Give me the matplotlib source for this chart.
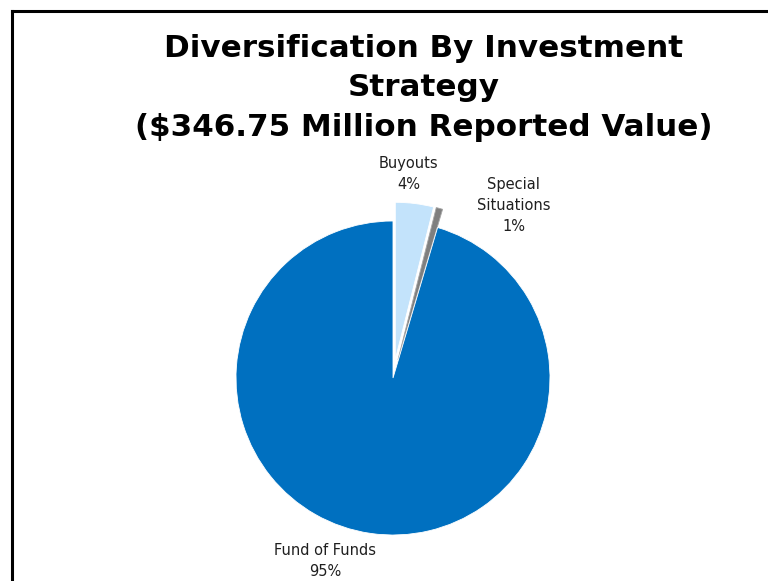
import matplotlib

matplotlib.use("Agg")
import matplotlib.pyplot as plt
from matplotlib.lines import Line2D

# reported value by strategy, $ millions
STRATEGIES = ["Buyouts", "Special\nSituations", "Fund of Funds"]
VALUES = [13.6, 2.3, 330.85]
TOTAL_LABEL = "$346.75 Million Reported Value"

COLORS = ["#C3E3FB", "#7F7F7F", "#0070C0"]
EXPLODE = [0.12, 0.12, 0.0]

# label anchor points in pie-radius units
LABEL_XY = [(0.10, 1.30), (0.77, 1.10), (-0.43, -1.165)]

W, H = 768, 581
CX, CY, R = 393, 378, 157

fig = plt.figure(figsize=(W / 100, H / 100), dpi=100)
ax = fig.add_axes([0, 0, 1, 1])

total = sum(VALUES)
wedges, _ = ax.pie(
    VALUES,
    colors=COLORS,
    explode=EXPLODE,
    startangle=90,
    counterclock=False,
    wedgeprops={"edgecolor": "white", "linewidth": 0.6},
)
wedges[1].set_edgecolor("#A6A6A6")

for name, value, (lx, ly) in zip(STRATEGIES, VALUES, LABEL_XY):
    ax.text(
        lx, ly, f"{name}\n{value / total * 100:.0f}%",
        ha="center", va="center", fontsize=10.5, color="#1f1f1f",
        linespacing=1.5,
    )

ax.set_xlim(-CX / R, (W - CX) / R)
ax.set_ylim((CY - H) / R, CY / R)
ax.set_aspect("auto")
ax.axis("off")

fig.text(
    424 / W, 1 - 88 / H,
    f"Diversification By Investment\nStrategy\n({TOTAL_LABEL})",
    ha="center", va="center", fontsize=22.3, fontweight="bold",
    color="black", linespacing=1.46,
)

# chart border (left and top edges)
fig.add_artist(Line2D([12 / W, 12 / W], [0, 1 - 11 / H], color="black", lw=2.2,
                      transform=fig.transFigure, solid_capstyle="projecting"))
fig.add_artist(Line2D([12 / W, 1], [1 - 11 / H, 1 - 11 / H], color="black", lw=2.2,
                      transform=fig.transFigure, solid_capstyle="projecting"))

fig.savefig("out.png", dpi=100, facecolor="white")
